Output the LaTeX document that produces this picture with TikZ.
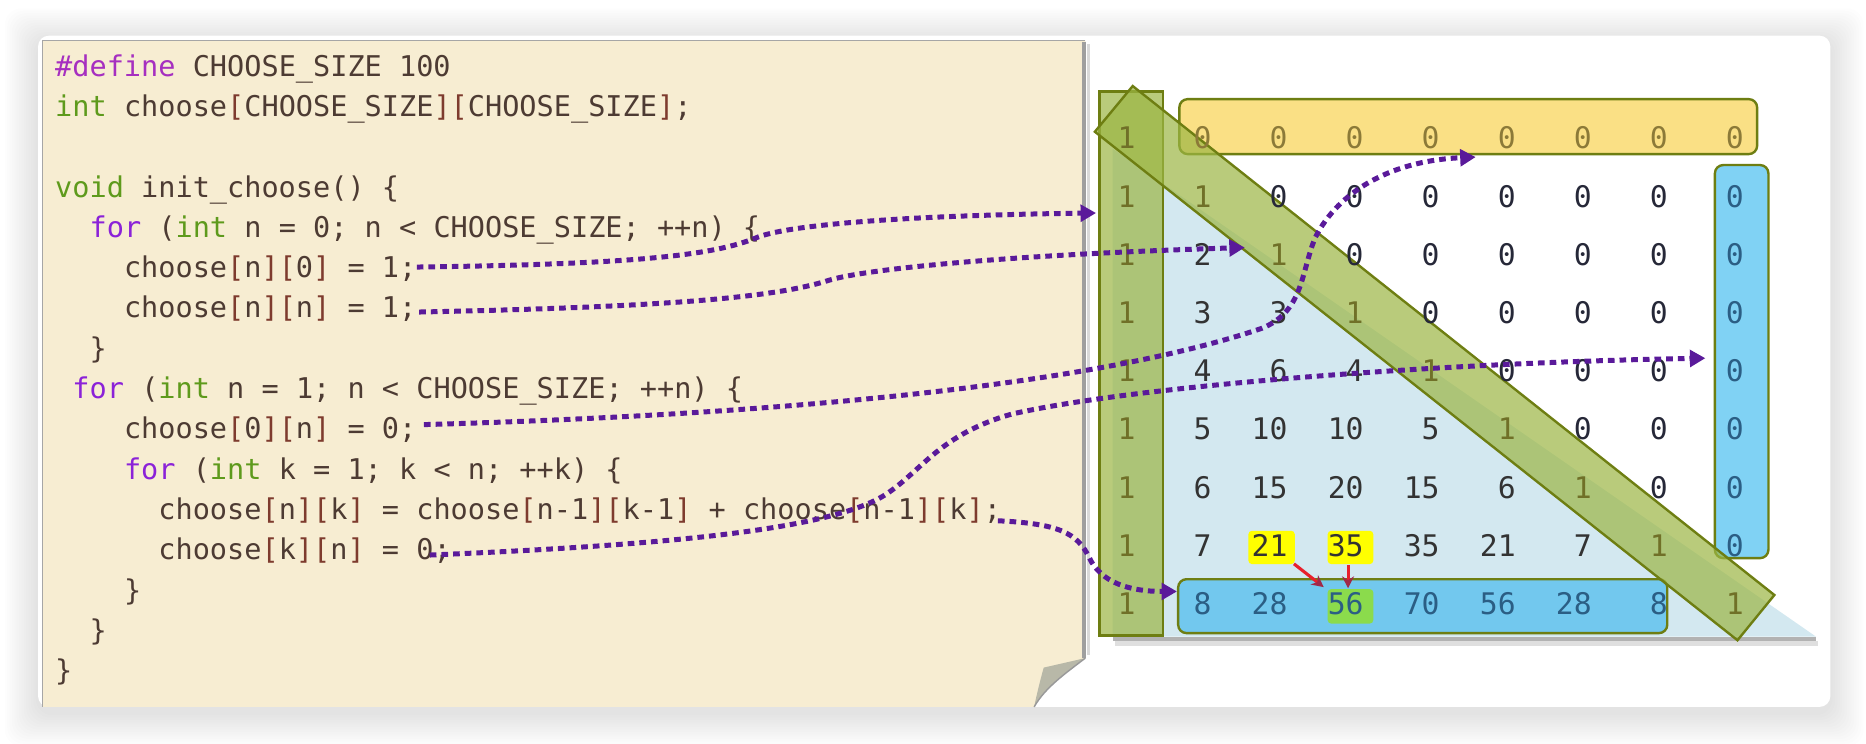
\documentclass[tikz,border=0pt]{standalone}
\usepackage{fontspec}
\newfontfamily\codefont{DejaVu Sans Mono}
\usetikzlibrary{arrows.meta}
\definecolor{paper}{HTML}{F7EDD2}
\definecolor{codetxt}{HTML}{4D3B33}
\definecolor{kwc}{HTML}{8B22D8}
\definecolor{tyc}{HTML}{5E9A1C}
\definecolor{ppc}{HTML}{A62FC0}
\definecolor{brc}{HTML}{7E3B2E}
\definecolor{arrowc}{HTML}{5A1A9A}
\definecolor{barfill}{HTML}{9CB644}
\definecolor{barline}{HTML}{6E7E12}
\definecolor{ltblue}{HTML}{D3E8F0}
\definecolor{yelbox}{HTML}{FAE085}
\definecolor{colblue}{HTML}{80D2F4}
\definecolor{rowblue}{HTML}{72C8EE}
\definecolor{onecol}{HTML}{707028}
\definecolor{yzero}{HTML}{8C7A38}
\definecolor{wzero}{HTML}{262838}
\definecolor{lgtxt}{HTML}{333333}
\definecolor{bnum}{HTML}{2B5E84}
\definecolor{hlyellow}{HTML}{FFFF00}
\definecolor{hlgreen}{HTML}{8BDB4C}
\definecolor{arrowred}{HTML}{E8202C}
\definecolor{tipred}{HTML}{A02848}
\definecolor{flapc}{HTML}{B8B8A8}
\newcommand\kwd[1]{\textcolor{kwc}{#1}}
\newcommand\typ[1]{\textcolor{tyc}{#1}}
\newcommand\ppd[1]{\textcolor{ppc}{#1}}
\newcommand\brk[1]{\textcolor{brc}{#1}}
\begin{document}
\begin{tikzpicture}[x=0.5pt,y=-0.5pt,
  codeline/.style={anchor=base west, inner sep=0pt, font=\codefont\fontsize{12}{14}\selectfont, text=codetxt},
  cellnum/.style={anchor=base east, inner sep=0pt, font=\codefont\fontsize{12.5}{14}\selectfont},
  purparrow/.style={draw=arrowc, line width=2.1pt, dash pattern=on 2.8pt off 2.1pt, line cap=butt, -{Triangle[length=6.5pt,width=7pt]}},
  redarrow/.style={draw=arrowred, line width=1.3pt, -{Stealth[length=5pt,width=5pt,color=tipred]}},
  boxline/.style={draw=barline, line width=1pt},
  greenbar/.style={draw=barline, line width=1pt, fill=barfill, fill opacity=0.7}]
\useasboundingbox (0,0) rectangle (1568,625);
\fill[white] (0,0) rectangle (1568,625);
% card shadow
\foreach \k in {1,...,14}{
  \fill[black, opacity=0.009, rounded corners=7pt] (32-2*\k,35-2*\k) rectangle (1538+2*\k,599+2*\k);
}
\fill[white, rounded corners=4.5pt] (32,30) rectangle (1538,594);
% paper
\fill[paper] (35.5,34) -- (912,34) -- (912,553) .. controls (895,566) and (878,578) .. (869,594) -- (35.5,594) -- cycle;
\draw[gray!70, line width=0.6pt] (35.5,594) -- (35.5,34) -- (912,34);
\draw[gray!75, line width=1.6pt] (911,35) -- (911,553);
\draw[gray!30, line width=1pt] (914.5,37) -- (914.5,550);
\fill[flapc] (912,553) -- (877,561) .. controls (874,572) and (871,584) .. (869,594) .. controls (878,578) and (895,566) .. (912,553) -- cycle;
\draw[gray!80, line width=0.6pt] (869,594) .. controls (878,578) and (895,566) .. (912,553);
% code
\node[codeline] (L0) at (46,64) {\ppd{\#define} CHOOSE\_SIZE 100};
\node[codeline] (L1) at (46,97.9) {\typ{int} choose\brk{[}CHOOSE\_SIZE\brk{]}\brk{[}CHOOSE\_SIZE\brk{]};};
\node[codeline] (L3) at (46,165.6) {\typ{void} init\_choose() \{};
\node[codeline] (L4) at (74.9,199.5) {\kwd{for} (\typ{int} n = 0; n < CHOOSE\_SIZE; ++n) \{};
\node[codeline] (L5) at (103.8,233.4) {choose\brk{[}n\brk{]}\brk{[}0\brk{]} = 1;};
\node[codeline] (L6) at (103.8,267.2) {choose\brk{[}n\brk{]}\brk{[}n\brk{]} = 1;};
\node[codeline] (L7) at (74.9,301.1) {\}};
\node[codeline] (L8) at (60.5,335) {\kwd{for} (\typ{int} n = 1; n < CHOOSE\_SIZE; ++n) \{};
\node[codeline] (L9) at (103.8,368.8) {choose\brk{[}0\brk{]}\brk{[}n\brk{]} = 0;};
\node[codeline] (L10) at (103.8,402.7) {\kwd{for} (\typ{int} k = 1; k < n; ++k) \{};
\node[codeline] (L11) at (132.7,436.6) {choose\brk{[}n\brk{]}\brk{[}k\brk{]} = choose\brk{[}n-1\brk{]}\brk{[}k-1\brk{]} + choose\brk{[}n-1\brk{]}\brk{[}k\brk{]};};
\node[codeline] (L12) at (132.7,470.4) {choose\brk{[}k\brk{]}\brk{[}n\brk{]} = 0;};
\node[codeline] (L13) at (103.8,504.3) {\}};
\node[codeline] (L14) at (74.9,538.2) {\}};
\node[codeline] (L15) at (46,572) {\}};
% matrix background
\fill[gray!60] (935,535) rectangle (1526,539);
\fill[gray!25] (937,539) rectangle (1528,543);
\fill[ltblue] (935,125) -- (935,535) -- (1526,535) -- cycle;
\draw[boxline, fill=yelbox, rounded corners=3.5pt] (991,83.3) rectangle (1476.5,129.5);
\draw[boxline, fill=colblue, rounded corners=3.5pt] (1441,138.7) rectangle (1486,469);
\draw[boxline, fill=rowblue, rounded corners=3.5pt] (990,486.7) rectangle (1401,532);
\fill[hlyellow, rounded corners=1.5pt] (1049,446) rectangle (1088,474);
\fill[hlyellow, rounded corners=1.5pt] (1115.6,446) rectangle (1154,474);
\fill[hlgreen, rounded corners=1.5pt] (1115.6,495) rectangle (1154,524);
% bars
\draw[greenbar] (924,77) rectangle (977,534);
\draw[greenbar] (951.8,72.3) -- (1491,500) -- (1460,538) -- (920,110.7) -- cycle;
% numbers
\foreach \row [count=\ri from 0] in {{1,0,0,0,0,0,0,0,0},{1,1,0,0,0,0,0,0,0},{1,2,1,0,0,0,0,0,0},{1,3,3,1,0,0,0,0,0},{1,4,6,4,1,0,0,0,0},{1,5,10,10,5,1,0,0,0},{1,6,15,20,15,6,1,0,0},{1,7,21,35,35,21,7,1,0},{1,8,28,56,70,56,28,8,1}}{
  \foreach \v [count=\ci from 0] in \row {
    \ifnum\ci=0 \def\mcol{onecol}\else\ifnum\ri=0 \def\mcol{yzero}\else\ifnum\ri=\ci \def\mcol{onecol}\else\ifnum\ci=8 \def\mcol{bnum}\else\ifnum\ri=8 \def\mcol{bnum}\else\ifnum\ri<\ci \def\mcol{wzero}\else\def\mcol{lgtxt}\fi\fi\fi\fi\fi\fi
    \node[cellnum, text=\mcol] (m-\ri-\ci) at ({954.5+63.9*\ci},{125.1+48.9*\ri}) {\v};
  }
}
% red arrows
\draw[redarrow] ([shift={(5,6)}]m-7-2.south east) -- ([shift={(-3,-4)}]m-8-3.north west);
\draw[redarrow] ([shift={(2,7)}]m-7-3.south) -- ([shift={(2,-3)}]m-8-3.north);
% purple arrows
\coordinate (tipA) at (921,179);
\coordinate (tipB) at (1046,208);
\coordinate (tipC) at (1240,132);
\coordinate (tipD) at (1433,301);
\coordinate (tipE) at (989,497);
\draw[purparrow] ([shift={(0,-9)}]L5.base east) .. controls (540,222) and (600,214) .. (635,200) .. controls (660,189) and (760,181) .. (tipA);
\draw[purparrow] ([shift={(2,-5)}]L6.base east) .. controls (560,258) and (650,250) .. (695,236) .. controls (725,226) and (850,214) .. (tipB);
\draw[purparrow] ([shift={(6,-12)}]L9.base east) .. controls (600,350) and (900,330) .. (1060,276) .. controls (1095,262) and (1093,230) .. (1105,200) .. controls (1125,160) and (1170,135) .. (tipC);
\draw[purparrow] ([shift={(-18,-4)}]L12.base east) .. controls (560,458) and (700,445) .. (745,415) .. controls (775,395) and (790,365) .. (850,348) .. controls (950,325) and (1200,305) .. (tipD);
\draw[purparrow] ([shift={(-3,1)}]L11.base east) .. controls (890,440) and (905,448) .. (915,468) .. controls (925,490) and (950,497) .. (tipE);
\end{tikzpicture}
\end{document}
